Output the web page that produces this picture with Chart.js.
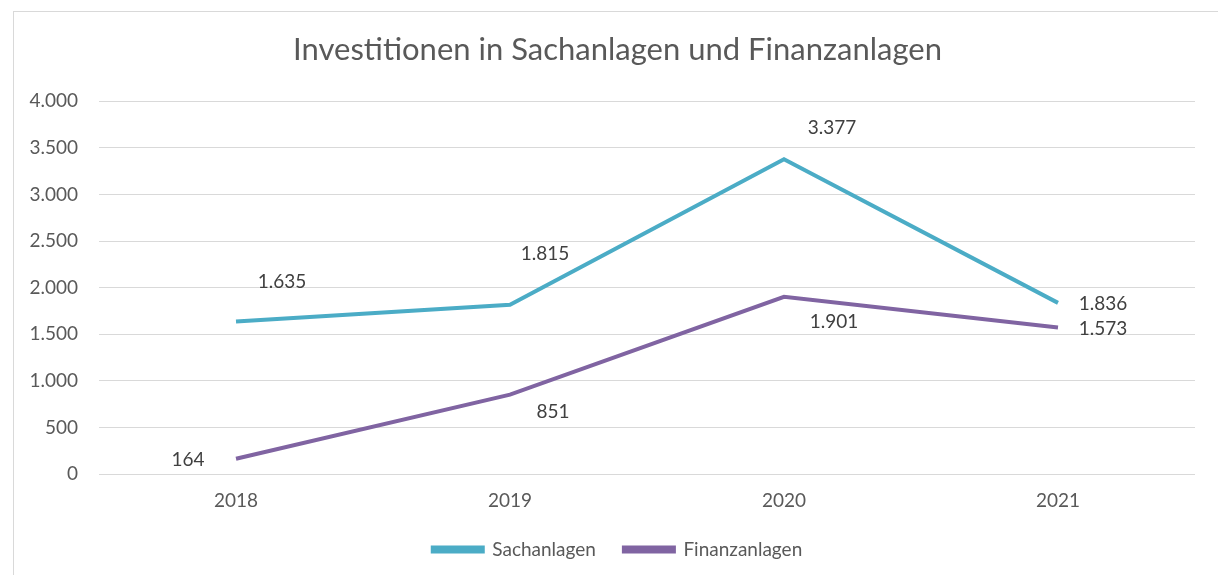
<!DOCTYPE html>
<html>
<head>
<meta charset="utf-8">
<script src="https://cdn.jsdelivr.net/npm/chart.js@4"></script>
<style>
  body { margin: 0; background: #fff; overflow: hidden; }
  #frame { position: absolute; left: 13px; top: 11px; width: 1300px; height: 600px; border: 1px solid #d9d9d9; }
  #wrap { position: absolute; left: 0; top: 0; width: 1218px; height: 575px; }
</style>
</head>
<body>
<div id="frame"></div>
<div id="wrap"><canvas id="myChart" width="1218" height="575"></canvas></div>
<script>
const years = ['2018', '2019', '2020', '2021'];
const sachanlagen = [1635, 1815, 3377, 1836];
const finanzanlagen = [164, 851, 1901, 1573];
const yTicks = [0, 500, 1000, 1500, 2000, 2500, 3000, 3500, 4000];

// label offsets (dx, dy) from each point
const labelOffsets = [
  [[46, -40], [35, -51], [48, -31], [45, 1]],
  [[-48, 1], [43, 17], [50, 25], [45, 1]]
];

const FONT = 'Lato, "Open Sans", sans-serif';

function fmt(v) {
  return String(v).replace(/\B(?=(\d{3})+(?!\d))/g, '.');
}

Chart.defaults.font.family = FONT;
Chart.defaults.color = '#595959';

// value labels next to the points
const pointLabels = {
  id: 'pointLabels',
  afterDatasetsDraw(chart) {
    const ctx = chart.ctx;
    ctx.save();
    ctx.font = '19px ' + FONT;
    ctx.fillStyle = '#404040';
    ctx.textAlign = 'center';
    ctx.textBaseline = 'middle';
    chart.data.datasets.forEach((ds, i) => {
      chart.getDatasetMeta(i).data.forEach((pt, j) => {
        const off = labelOffsets[i][j];
        ctx.fillText(fmt(ds.data[j]), pt.x + off[0], pt.y + off[1]);
      });
    });
    ctx.restore();
  }
};

// y tick labels drawn unclipped (the scale box is narrow)
const yLabels = {
  id: 'yLabels',
  afterDraw(chart) {
    const ctx = chart.ctx;
    const y = chart.scales.y;
    ctx.save();
    ctx.font = '19px ' + FONT;
    ctx.fillStyle = '#595959';
    ctx.textAlign = 'right';
    ctx.textBaseline = 'middle';
    y.ticks.forEach(t => {
      ctx.fillText(fmt(t.value), chart.chartArea.left - 21, y.getPixelForValue(t.value));
    });
    ctx.restore();
  }
};

const ctx = document.getElementById('myChart').getContext('2d');

const myChart = new Chart(ctx, {
  type: 'line',
  data: {
    labels: years,
    datasets: [{
      label: 'Sachanlagen',
      data: sachanlagen,
      borderColor: '#4bacc6',
      backgroundColor: '#4bacc6',
      borderWidth: 4,
      pointRadius: 0,
      fill: false
    }, {
      label: 'Finanzanlagen',
      data: finanzanlagen,
      borderColor: '#8064a2',
      backgroundColor: '#8064a2',
      borderWidth: 4,
      pointRadius: 0,
      fill: false
    }]
  },
  options: {
    responsive: false,
    animation: false,
    layout: { padding: { left: 40, right: 23, top: 0, bottom: 6 } },
    plugins: {
      title: {
        display: true,
        text: 'Investitionen in Sachanlagen und Finanzanlagen',
        font: { size: 31, weight: 'normal' },
        color: '#595959',
        padding: { top: 31, bottom: 33 }
      },
      legend: {
        position: 'bottom',
        labels: {
          boxWidth: 50,
          boxHeight: 4,
          font: { size: 19 },
          color: '#595959',
          padding: 28
        }
      },
      tooltip: { enabled: false }
    },
    scales: {
      x: {
        offset: true,
        afterFit(scale) { scale.height = 38; },
        grid: { display: false, drawTicks: false },
        border: { display: false },
        ticks: { font: { size: 19 }, color: '#595959', padding: 15 }
      },
      y: {
        min: 0,
        max: 4000,
        afterBuildTicks(scale) {
          scale.ticks = yTicks.map(v => ({ value: v }));
        },
        afterFit(scale) { scale.width = 59; },
        grid: { color: '#d9d9d9', lineWidth: 1, drawTicks: false },
        border: { display: false },
        ticks: { display: false }
      }
    }
  },
  plugins: [pointLabels, yLabels]
});
</script>
</body>
</html>
